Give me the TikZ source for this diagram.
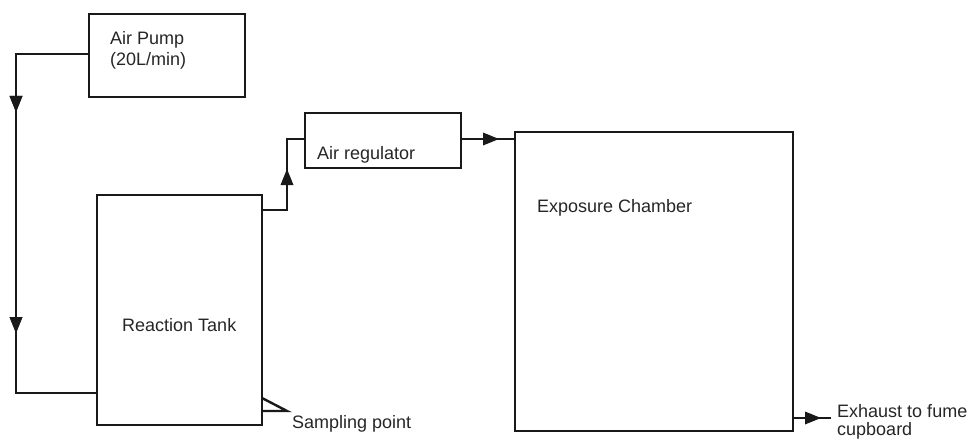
\documentclass[tikz,border=0pt]{standalone}
\usepackage{fontspec}
\setmainfont{Liberation Sans}
\usetikzlibrary{decorations.markings}
\tikzset{
  box/.style={draw=black!90, line width=2.4pt, inner sep=0pt, outer sep=0pt, fill=white},
  lbl/.style={anchor=base west, inner sep=0pt, font=\fontsize{18}{20}\selectfont, text=black!85},
  pipe/.style={line width=2.4pt, draw=black!90},
  midarrow/.style={postaction={decorate}, decoration={markings,
     mark=at position #1 with {\fill[black!90] (0pt,0pt) -- (-16pt,6.5pt) -- (-16pt,-6.5pt) -- cycle;}}},
}
\begin{document}
\begin{tikzpicture}[x=1pt,y=-1pt]
\useasboundingbox (0,0) rectangle (971,441);
% boxes
\node[box, minimum width=156pt, minimum height=83pt] (pump) at (167,55.5) {};
\node[box, minimum width=165pt, minimum height=230pt] (tank) at (179.5,310) {};
\node[box, minimum width=156pt, minimum height=55pt] (reg) at (383,140.5) {};
\node[box, minimum width=278pt, minimum height=299pt] (ch) at (654,281.5) {};
% coordinates
\coordinate (c1) at (16,54);
\coordinate (c2) at (16,393);
\coordinate (t1) at (97,393);
\coordinate (o1) at (262,210);
\coordinate (o2) at (287,210);
\coordinate (o3) at (287,139);
\coordinate (r1) at (305,139);
\coordinate (r2) at (461,139);
\coordinate (e1) at (515,139);
\coordinate (x1) at (793,418);
\coordinate (x2) at (831,418);
\coordinate (s1) at (262,398);
\coordinate (s2) at (287,411);
\coordinate (s3) at (262,411);
% connectors
\draw[pipe, midarrow=131pt, midarrow=352pt] (pump.west |- c1) -- (c1) -- (c2) -- (t1);
\draw[pipe, midarrow=66pt] (o1) -- (o2) -- (o3) -- (r1);
\draw[pipe, midarrow=38pt] (r2) -- (e1);
\draw[pipe, midarrow=28pt] (x1) -- (x2);
\draw[pipe, line join=miter] (s1) -- (s2) -- (s3);
% labels
\node[lbl] (lp1) at (110,45) {Air Pump};
\node[lbl] (lp2) at (110,66) {(20L/min)};
\node[lbl] (lt) at (122,331) {Reaction Tank};
\node[lbl] (ls) at (292,428) {Sampling point};
\node[lbl] (lr) at (317,159) {Air regulator};
\node[lbl] (lc) at (537,212) {Exposure Chamber};
\node[lbl] (lx1) at (837,417) {Exhaust to fume};
\node[lbl] (lx2) at (837,435) {cupboard};
\end{tikzpicture}
\end{document}
